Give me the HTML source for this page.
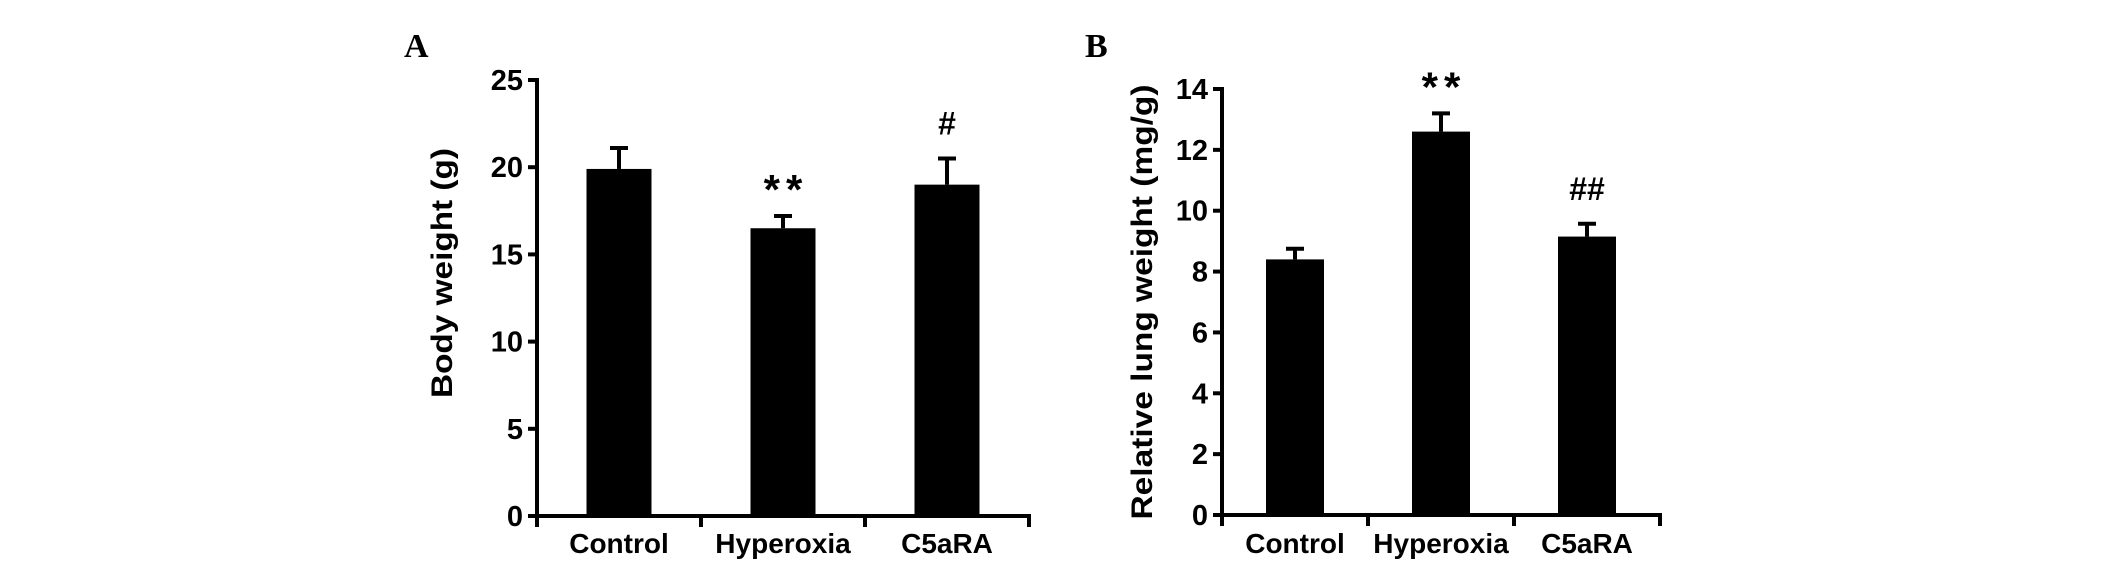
<!DOCTYPE html>
<html><head><meta charset="utf-8"><style>
html,body{margin:0;padding:0;background:#fff;}
svg{display:block;font-family:"Liberation Sans",Arial,sans-serif;}
</style></head><body>
<svg id="fig" width="2126" height="568" viewBox="0 0 2126 568" xmlns="http://www.w3.org/2000/svg">
<text x="404" y="57" font-family="Liberation Serif,serif" font-weight="bold" font-size="34">A</text>
<text x="1085" y="57" font-family="Liberation Serif,serif" font-weight="bold" font-size="34">B</text>
<g id="chartA"></g>
<g id="chartB"></g>
</svg>
<script>
const categories = ["Control", "Hyperoxia", "C5aRA"];
const bodyWeight = [19.9, 16.5, 19.0];
const bodyWeightErr = [1.2, 0.7, 1.5];
const bodyWeightMarks = ["", "**", "#"];
const ticksA = [0, 5, 10, 15, 20, 25];
const lungWeight = [8.4, 12.6, 9.15];
const lungWeightErr = [0.35, 0.6, 0.42];
const lungWeightMarks = ["", "**", "##"];
const ticksB = [0, 2, 4, 6, 8, 10, 12, 14];

const NS = "http://www.w3.org/2000/svg";
function mk(tag, attrs, parent, txt){
  const e = document.createElementNS(NS, tag);
  for (const k in attrs) e.setAttribute(k, attrs[k]);
  if (txt !== undefined) e.textContent = txt;
  parent.appendChild(e);
  return e;
}
function drawChart(g, cfg, vals, errs, marks, ticks){
  const y = v => cfg.y0 - (v - 0) / cfg.max * (cfg.y0 - cfg.yTop);
  const x = i => cfg.x0 + cfg.step * (i + 0.5);
  let ax = mk("line", {x1:cfg.x0, y1:cfg.yTop-2, x2:cfg.x0, y2:cfg.y0+11, stroke:"#000","stroke-width":4}, g);
  
  
  let xa = mk("line", {x1:cfg.x0-2, y1:cfg.y0, x2:cfg.x0+cfg.step*3+2, y2:cfg.y0, stroke:"#000","stroke-width":4}, g);
  
  
  for (let i = 1; i <= 3; i++){
    const t = mk("line", {x1:cfg.x0+cfg.step*i, y1:cfg.y0, x2:cfg.x0+cfg.step*i, y2:cfg.y0+11, stroke:"#000","stroke-width":4}, g);
    
    
  }
  ticks.forEach(v => {
    const t = mk("line", {x1:cfg.x0-9, y1:y(v), x2:cfg.x0, y2:y(v), stroke:"#000","stroke-width":4}, g);
    
    
    const l = mk("text", {x:cfg.x0-14, y:y(v)+10, "text-anchor":"end","font-size":29,"font-weight":"bold"}, g, String(v));
    
    
  });
  vals.forEach((v, i) => {
    const cx = x(i);
    const top = y(v + errs[i]);
    const e1 = mk("line", {x1:cx, y1:y(v), x2:cx, y2:top, stroke:"#000","stroke-width":4}, g);
    
    
    const e2 = mk("line", {x1:cx-9, y1:top, x2:cx+9, y2:top, stroke:"#000","stroke-width":4}, g);
    
    
    const b = mk("rect", {x:cx-cfg.bw/2, y:y(v), width:cfg.bw, height:cfg.y0-y(v), fill:"#000"}, g);
    
    
    if (marks[i]){
      const star = marks[i][0] === "*";
      const m = mk("text", {x:cx + (star?3:0), y:top-(star?12:24), "text-anchor":"middle","font-size":star?42:32,"font-weight":"bold","letter-spacing":star?6:0}, g, marks[i]);
      
      
    }
    const c = mk("text", {x:cx, y:553, "text-anchor":"middle","font-size":28,"font-weight":"bold"}, g, categories[i]);
    
    
  });
  const tt = mk("text", {x:0, y:0, "text-anchor":"middle","font-size":30,"font-weight":"bold",
    textLength:cfg.titleLen, lengthAdjust:"spacingAndGlyphs",
    transform:`translate(${cfg.titleX},${cfg.titleY}) rotate(-90)`}, g, cfg.title);
  
  
}
drawChart(document.getElementById("chartA"),
  {x0:537, y0:516, yTop:80, max:25, step:164, bw:65, title:"Body weight (g)", titleX:452, titleY:273, titleLen:250},
  bodyWeight, bodyWeightErr, bodyWeightMarks, ticksA);
drawChart(document.getElementById("chartB"),
  {x0:1222, y0:515, yTop:89, max:14, step:146, bw:58, title:"Relative lung weight (mg/g)", titleX:1152, titleY:302, titleLen:435},
  lungWeight, lungWeightErr, lungWeightMarks, ticksB);
</script>
</body></html>
